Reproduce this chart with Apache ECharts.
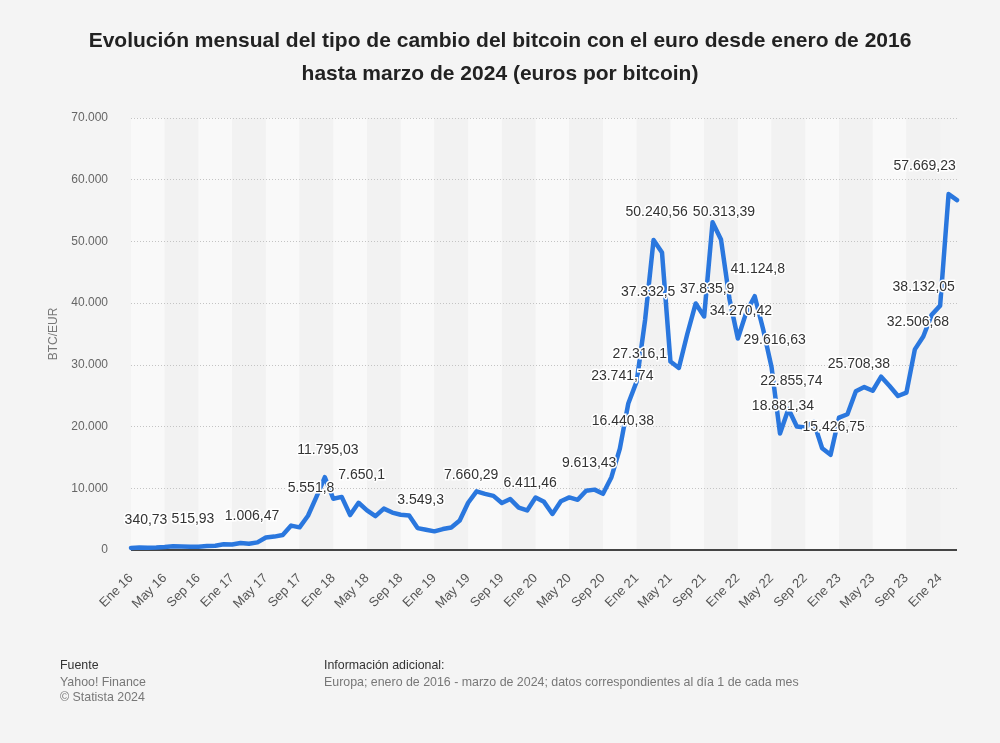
<!DOCTYPE html>
<html>
<head>
<meta charset="utf-8">
<script src="https://cdn.jsdelivr.net/npm/echarts@6/dist/echarts.min.js"></script>
<style>
html,body{margin:0;padding:0;background:#f4f4f4;}
#chart{width:1000px;height:743px;}
</style>
</head>
<body>
<div id="chart"></div>
<script>
// Month abbreviations (Spanish) and years for the category axis
var monthNames = ['Ene','Feb','Mar','Abr','May','Jun','Jul','Ago','Sep','Oct','Nov','Dic'];
var years = ['16','17','18','19','20','21','22','23','24'];

// BTC/EUR monthly values, Jan 2016 - Mar 2024
var values2016 = [340.73, 402, 366, 391, 477, 606, 559, 515.93, 542, 636, 700, 916];
var values2017 = [898, 1125, 1006.47, 1237, 2034, 2172, 2428, 3952, 3673, 5551.8, 8600, 11795.03];
var values2018 = [8300, 8600, 5660, 7650.1, 6411, 5483, 6700, 6066, 5712, 5586, 3549.3, 3269];
var values2019 = [3019, 3390, 3659, 4768, 7660.29, 9513, 9102, 8770, 7608, 8250, 6868, 6411.46];
var values2020 = [8500, 7800, 5837, 7907, 8524, 8130, 9613.43, 9782, 9100, 11800, 16440.38, 23741.74];
var values2021 = [27316.1, 37332.5, 50240.56, 48200, 30550, 29500, 35000, 39950, 37835.9, 53100, 50313.39, 40726];
var values2022 = [34270.42, 38500, 41124.8, 35780, 29616.63, 18881.34, 22855.74, 20000, 19850, 20745, 16480, 15426.75];
var values2023 = [21450, 22000, 25708.38, 26400, 25800, 28080, 26570, 24950, 25500, 32506.68, 34600, 38132.05];
var values2024 = [39600, 57669.23, 56700];

// indices of points carrying a value label
var labeledIdx = [0,7,14,21,23,27,34,40,47,54,58,59,60,61,62,68,70,72,74,76,77,78,83,86,93,95,97];
// horizontal label shifts (labels kept inside the plot, as in the original)
var labelShift = {0: 15, 59: -6, 95: -8, 97: -24};

var yTicks = [0, 10000, 20000, 30000, 40000, 50000, 60000, 70000];

var values = [].concat(values2016, values2017, values2018, values2019, values2020,
                       values2021, values2022, values2023, values2024);
var categories = [];
for (var k = 0; k < values.length; k++) {
  categories.push(monthNames[k % 12] + ' ' + years[Math.floor(k / 12)]);
}

function fmtEs(v) {
  var s = String(v).split('.');
  var ip = s[0].replace(/\B(?=(\d{3})+(?!\d))/g, '.');
  return s.length > 1 ? ip + ',' + s[1] : ip;
}

var labelSet = {};
labeledIdx.forEach(function (i) { labelSet[i] = true; });
var seriesData = values.map(function (v, i) {
  if (labelSet[i]) {
    return {value: v, label: {show: true}};
  }
  return v;
});

var chart = echarts.init(document.getElementById('chart'), null, {renderer: 'canvas'});
var FONT = '"Liberation Sans", Arial, Helvetica, sans-serif';

chart.setOption({
  backgroundColor: '#f4f4f4',
  animation: false,
  textStyle: {fontFamily: FONT},
  title: {
    text: 'Evolución mensual del tipo de cambio del bitcoin con el euro desde enero de 2016\nhasta marzo de 2024 (euros por bitcoin)',
    left: 'center',
    top: 20,
    textStyle: {fontFamily: FONT, fontSize: 21, fontWeight: 'bold', color: '#222', lineHeight: 33}
  },
  grid: {left: 131, right: 43, top: 118, bottom: 193, containLabel: false},
  xAxis: {
    type: 'category',
    data: categories,
    boundaryGap: false,
    z: 0,
    axisLine: {show: false},
    axisTick: {show: false},
    axisLabel: {interval: 3, rotate: 45, margin: 26, color: '#555', fontSize: 13, fontFamily: FONT},
    splitLine: {show: false},
    splitArea: {show: true, interval: 3, areaStyle: {color: ['#f9f9f9', '#f2f2f2']}}
  },
  yAxis: {
    type: 'value',
    min: yTicks[0],
    max: yTicks[yTicks.length - 1],
    interval: 10000,
    z: 1,
    name: 'BTC/EUR',
    nameLocation: 'middle',
    nameGap: 71,
    nameTextStyle: {color: '#777', fontSize: 12, fontFamily: FONT},
    axisLine: {show: false},
    axisTick: {show: false},
    axisLabel: {margin: 23, color: '#666', fontSize: 12, fontFamily: FONT, formatter: function (v) { return fmtEs(v); }},
    splitLine: {show: true, showMinLine: false, lineStyle: {color: '#c4c4c4', type: [1, 2], width: 1}}
  },
  series: [{
    type: 'line',
    data: seriesData,
    symbol: 'circle',
    symbolSize: 1,
    showSymbol: true,
    showAllSymbol: true,
    itemStyle: {color: '#2a77de'},
    lineStyle: {color: '#2a77de', width: 4.5, join: 'round', cap: 'round'},
    label: {
      show: false,
      position: 'top',
      distance: 20,
      color: '#333',
      fontSize: 14,
      fontFamily: FONT,
      textBorderColor: '#ffffff',
      textBorderWidth: 3,
      formatter: function (p) { return fmtEs(p.value); }
    },
    labelLayout: function (params) {
      var s = labelShift[params.dataIndex];
      return {dx: s !== undefined ? s : 3, hideOverlap: false};
    },
    markLine: {
      silent: true,
      symbol: 'none',
      label: {show: false},
      lineStyle: {color: '#444', width: 2, type: 'solid'},
      data: [{yAxis: yTicks[0]}],
      z: 2
    },
    z: 3
  }],
  graphic: [
    {type: 'text', left: 60, top: 660, style: {text: 'Fuente', fill: '#333', font: '12.4px ' + FONT}},
    {type: 'text', left: 60, top: 677, style: {text: 'Yahoo! Finance', fill: '#777', font: '12.4px ' + FONT}},
    {type: 'text', left: 60, top: 692, style: {text: '© Statista 2024', fill: '#777', font: '12.4px ' + FONT}},
    {type: 'text', left: 324, top: 660, style: {text: 'Información adicional:', fill: '#333', font: '12.4px ' + FONT}},
    {type: 'text', left: 324, top: 677, style: {text: 'Europa; enero de 2016 - marzo de 2024; datos correspondientes al día 1 de cada mes', fill: '#777', font: '12.4px ' + FONT}}
  ]
});
</script>
</body>
</html>
